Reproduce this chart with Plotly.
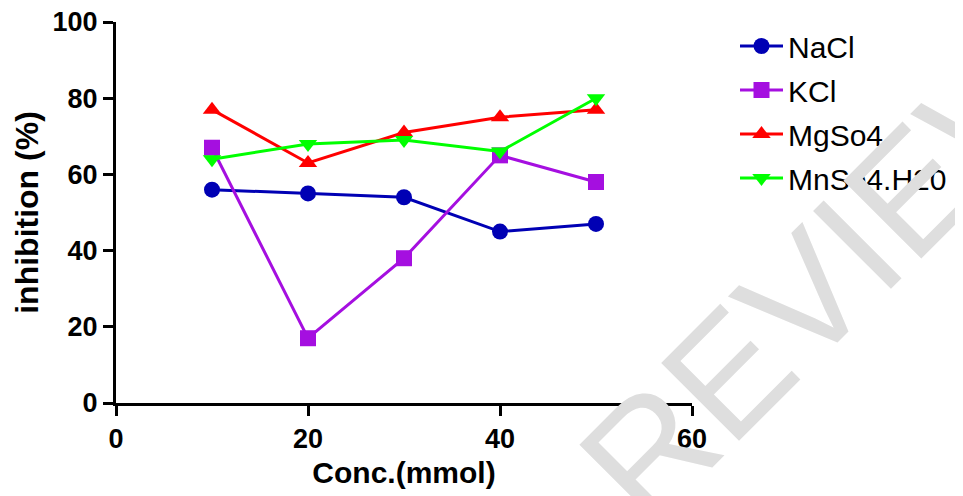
import plotly.graph_objects as go

conc = [10, 20, 30, 40, 50]
nacl = [56, 55, 54, 45, 47]
kcl = [67, 17, 38, 65, 58]
mgso4 = [77, 63, 71, 75, 77]
mnso4 = [64, 68, 69, 66, 80]

series = [
    ("NaCl", nacl, "#0000b4", "circle"),
    ("KCl", kcl, "#a50fe0", "square"),
    ("MgSo4", mgso4, "#ff0000", "triangle-up"),
    ("MnSo4.H20", mnso4, "#00ff00", "triangle-down"),
]

# page body adds an ~8px offset; figure sized to fit the window
OFF = 8
W, H = 963 - OFF, 496 - OFF
L, T = 116 - OFF, 22 - OFF
PW, PH = 576, 381

fig = go.Figure()
for name, vals, color, sym in series:
    fig.add_trace(go.Scatter(
        x=conc, y=vals, name=name, mode="lines+markers", legendgroup=name,
        line=dict(color=color, width=3),
        marker=dict(symbol=sym, size=16, color=color, line=dict(width=0)),
        cliponaxis=False,
    ))

fig.add_annotation(
    text="PEER REVIEW", xref="paper", yref="paper",
    x=(662 - 116) / PW, y=(403 - 440) / PH,
    showarrow=False, textangle=-45,
    font=dict(family="Liberation Sans", size=160, color="#dedede"),
    xanchor="center", yanchor="middle",
)

axis_font = dict(family="Liberation Sans", size=27, color="black", weight="bold")

fig.update_layout(
    width=W, height=H,
    margin=dict(l=L, r=W - L - PW, t=T, b=H - T - PH, autoexpand=False),
    plot_bgcolor="white", paper_bgcolor="white",
    showlegend=True,
    legend=dict(
        xref="container", yref="container",
        x=(735 - OFF) / W, y=1 - 12 / H,
        xanchor="left", yanchor="top",
        font=dict(family="Liberation Sans", size=30, color="black"),
        tracegroupgap=2, itemwidth=43, bgcolor="rgba(0,0,0,0)",
    ),
    xaxis=dict(
        range=[0, 60], tickvals=[0, 20, 40, 60],
        showgrid=False, zeroline=False,
        showline=True, linecolor="black", linewidth=3,
        ticks="outside", ticklen=10, tickwidth=3, tickcolor="black",
        tickfont=axis_font, ticklabeloverflow="allow",
        title=dict(text="Conc.(mmol)",
                   font=dict(family="Liberation Sans", size=30, color="black", weight="bold"),
                   standoff=9),
    ),
    yaxis=dict(
        range=[0, 100], tickvals=[0, 20, 40, 60, 80, 100],
        showgrid=False, zeroline=False,
        showline=True, linecolor="black", linewidth=3,
        ticks="outside", ticklen=10, tickwidth=3, tickcolor="black",
        tickfont=axis_font, ticklabeloverflow="allow",
        title=dict(text="inhibition (%)",
                   font=dict(family="Liberation Sans", size=32, color="black", weight="bold"),
                   standoff=5),
    ),
)

fig.write_html("out.html")
